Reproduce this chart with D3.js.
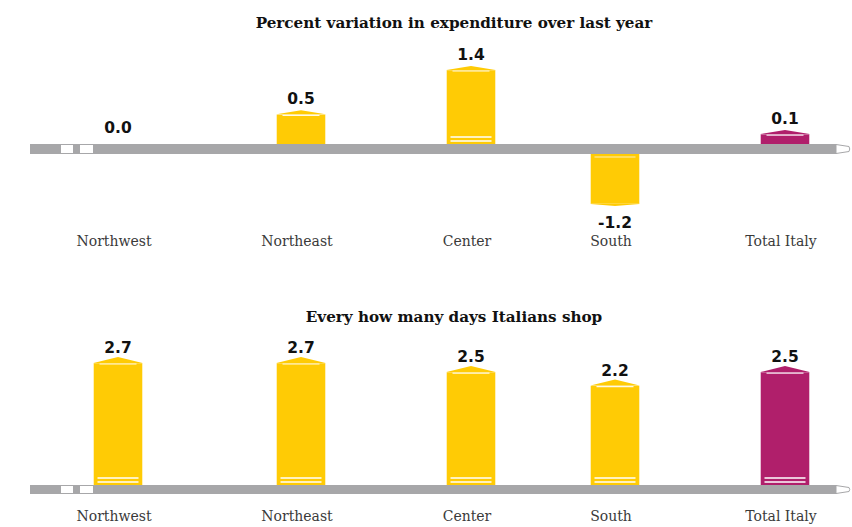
<!DOCTYPE html>
<html>
<head>
<meta charset="utf-8">
<script src="https://cdn.jsdelivr.net/npm/d3@7"></script>
<style>
  html, body { margin: 0; padding: 0; background: #ffffff; }
  svg { display: block; }
</style>
</head>
<body>
<div id="chart"></div>
<script>
// Regions shown in both panels
const categories = ["Northwest", "Northeast", "Center", "South", "Total Italy"];

// Panel 1: percent variation in expenditure over last year
const titleSpend = "Percent variation in expenditure over last year";
const spendValues = [0.0, 0.5, 1.4, -1.2, 0.1];

// Panel 2: every how many days Italians shop
const titleDays = "Every how many days Italians shop";
const daysValues = [2.7, 2.7, 2.5, 2.2, 2.5];

const W = 852, H = 527;
const YELLOW = "#ffcb05", MAGENTA = "#b01f6b", GRAY = "#a7a7a9";
const barW = 49;

const svg = d3.select("#chart").append("svg")
  .attr("width", W).attr("height", H);

// Horizontal position of every region (centre of its pencil-bar)
const x = d3.scaleOrdinal().domain(categories).range([118, 301, 471, 615, 785]);
const colorOf = d3.scaleOrdinal().domain(categories)
  .range([YELLOW, YELLOW, YELLOW, YELLOW, MAGENTA]);

// plain hyphen for negative numbers
const fmt = d3.formatLocale({ decimal: ".", thousands: ",", grouping: [3], currency: ["", ""], minus: "-" })
  .format(".1f");

// Axis drawn as a long pencil: eraser bands on the left, sharpened tip on the right
function drawAxis(g, top, bottom) {
  const h = bottom - top;
  g.append("rect").attr("x", 30).attr("y", top).attr("width", 806).attr("height", h)
    .attr("fill", GRAY);
  [[61, 12], [80, 13]].forEach(([ex, ew]) => {
    g.append("rect").attr("x", ex).attr("y", top + 1).attr("width", ew).attr("height", h - 2)
      .attr("fill", "#ffffff");
  });
  g.append("path")
    .attr("d", `M836,${top + 0.5} L849,${top + 2.5} Q850.5,${(top + bottom) / 2} 849,${bottom - 2.5} L836,${bottom - 0.5} Z`)
    .attr("fill", "#ffffff").attr("stroke", GRAY).attr("stroke-width", 1);
}

// One pencil-shaped bar; dir = -1 grows upward, +1 downward
function drawBar(g, cx, base, end, dir, tipH, color, withBands, withShoulder) {
  const x0 = cx - barW / 2, x1 = cx + barW / 2;
  const yA = Math.min(base, end), yB = Math.max(base, end);
  g.append("rect").attr("x", x0).attr("y", yA).attr("width", barW).attr("height", yB - yA)
    .attr("fill", color).attr("stroke", "rgba(255,255,255,0.55)").attr("stroke-width", 0.8);
  // sharpened end
  g.append("path")
    .attr("d", `M${x0},${end} L${cx},${end + dir * tipH} L${x1},${end} Z`)
    .attr("fill", color);
  // highlight line where the tip begins
  if (withShoulder) {
    g.append("line")
      .attr("x1", x0 + 6).attr("x2", x1 - 6)
      .attr("y1", end - dir * 1).attr("y2", end - dir * 1)
      .attr("stroke", "#ffffff").attr("stroke-width", 1.2).attr("opacity", 0.9);
  }
  // ferrule bands near the axis
  if (withBands) {
    [5, 9].forEach(o => {
      g.append("line")
        .attr("x1", x0 + 4).attr("x2", x1 - 4)
        .attr("y1", base + dir * o).attr("y2", base + dir * o)
        .attr("stroke", "#ffffff").attr("stroke-width", 1.5);
    });
  }
}

function drawTitle(text, baseline) {
  svg.append("text")
    .attr("x", 454).attr("y", baseline)
    .attr("text-anchor", "middle")
    .attr("font-family", "'DejaVu Serif', serif")
    .attr("font-weight", "bold")
    .attr("font-size", 15.2)
    .attr("fill", "#111111")
    .text(text);
}

function drawCategoryLabels(g, baseline) {
  g.selectAll("text.cat").data(categories).join("text")
    .attr("class", "cat")
    .attr("x", d => x(d) - 4)
    .attr("y", baseline)
    .attr("text-anchor", "middle")
    .attr("font-family", "'DejaVu Serif', serif")
    .attr("font-size", 14)
    .attr("fill", "#3a3a3a")
    .text(d => d);
}

function valueLabel(g, cx, y, v) {
  g.append("text")
    .attr("x", cx).attr("y", y)
    .attr("text-anchor", "middle")
    .attr("font-family", "'DejaVu Sans', sans-serif")
    .attr("font-weight", "bold")
    .attr("font-size", 15.5)
    .attr("fill", "#111111")
    .text(fmt(v));
}

// ---------- Panel 1 ----------
{
  const g = svg.append("g");
  const axisTop = 144, axisBottom = 154;
  // separate scales for gains (above the axis) and losses (below it)
  const yUp = d3.scaleLinear().domain([0, 1.4]).range([axisTop - 5, 70]);
  const yDown = d3.scaleLinear().domain([0, -1.2]).range([axisBottom + 5, 204]);

  drawTitle(titleSpend, 28);

  categories.forEach((c, i) => {
    const v = spendValues[i];
    if (v > 0) {
      const end = yUp(v);
      drawBar(g, x(c), axisTop + 2, end, -1, 4, colorOf(c), axisTop - end > 40, true);
      valueLabel(g, x(c), end - 10, v);
    } else if (v < 0) {
      const end = yDown(v);
      drawBar(g, x(c), axisBottom - 2, end, 1, 2, colorOf(c), false, false);
      g.append("line")
        .attr("x1", x(c) - barW / 2 + 4).attr("x2", x(c) + barW / 2 - 4)
        .attr("y1", axisBottom + 3).attr("y2", axisBottom + 3)
        .attr("stroke", "#ffffff").attr("stroke-width", 1.2).attr("opacity", 0.7);
      valueLabel(g, x(c), end + 24, v);
    } else {
      valueLabel(g, x(c), axisTop - 11, v);
    }
  });

  drawAxis(g, axisTop, axisBottom);
  drawCategoryLabels(g, 246);
}

// ---------- Panel 2 ----------
{
  const g = svg.append("g");
  const axisTop = 485, axisBottom = 494;
  const y = d3.scaleLinear().domain([0, 2.7]).range([axisTop, 363]);

  drawTitle(titleDays, 322);

  categories.forEach((c, i) => {
    const v = daysValues[i];
    const end = y(v);
    drawBar(g, x(c), axisTop + 2, end, -1, 6, colorOf(c), true, true);
    valueLabel(g, x(c), end - 10, v);
  });

  drawAxis(g, axisTop, axisBottom);
  drawCategoryLabels(g, 521);
}
</script>
</body>
</html>
